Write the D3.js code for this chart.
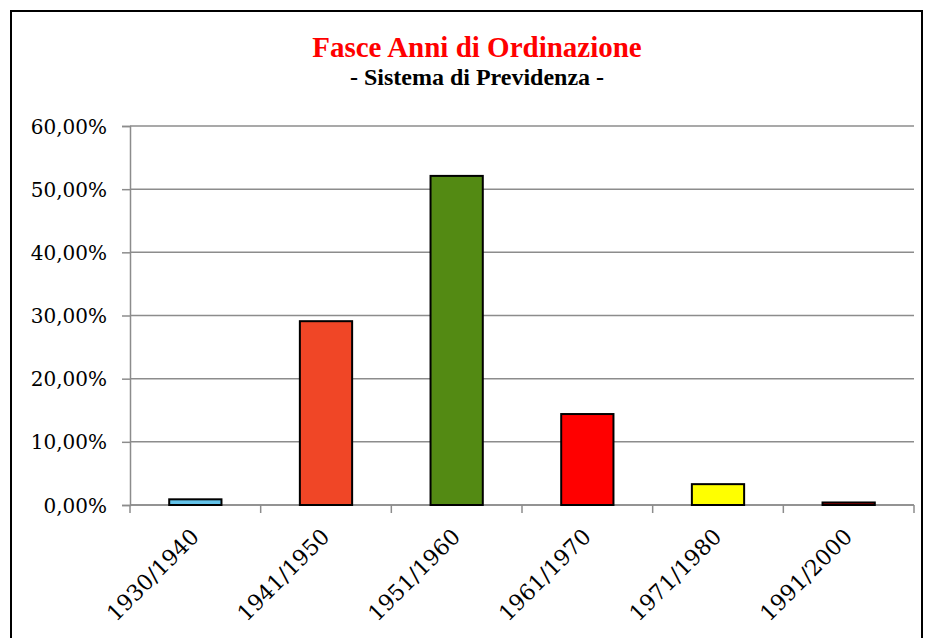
<!DOCTYPE html>
<html>
<head>
<meta charset="utf-8">
<script src="https://cdn.jsdelivr.net/npm/d3@7"></script>
<style>
  body { margin:0; background:#fff; }
  svg text { fill:#000; }
</style>
</head>
<body>
<div class="chart"></div>
<script>
// data
const periods = ["1930/1940", "1941/1950", "1951/1960", "1961/1970", "1971/1980", "1991/2000"];
const shares = [0.9, 29.1, 52.1, 14.4, 3.3, 0.4];
const barColors = ["#63c3ea", "#f04626", "#538a13", "#ff0000", "#ffff00", "#c00000"];
const yTicks = [0, 10, 20, 30, 40, 50, 60];

const W = 930, H = 638;
const margin = { top:126, right:16, bottom:133, left:130 };
const width = W - margin.left - margin.right;
const height = H - margin.top - margin.bottom;

const svg = d3.select(".chart")
    .append("svg")
    .attr("width", W)
    .attr("height", H);

// outer frame
svg.append("rect")
    .attr("x", 11).attr("y", 11)
    .attr("width", 911).attr("height", 640)
    .attr("fill", "none")
    .attr("stroke", "#000")
    .attr("stroke-width", 2);

// titles
svg.append("text")
    .attr("x", 477).attr("y", 57)
    .attr("text-anchor", "middle")
    .style("font-family", "Liberation Serif")
    .style("font-weight", "bold")
    .style("font-size", "29px")
    .style("fill", "#ff0000")
    .text("Fasce Anni di Ordinazione");

svg.append("text")
    .attr("x", 477).attr("y", 85)
    .attr("text-anchor", "middle")
    .style("font-family", "Liberation Serif")
    .style("font-weight", "bold")
    .style("font-size", "24px")
    .text("- Sistema di Previdenza -");

const g = svg.append("g")
    .attr("transform", `translate(${margin.left}, ${margin.top})`);

let yScale = d3.scaleLinear()
    .domain([0, 60])
    .range([height, 0]);

let xScale = d3.scaleBand()
    .domain(periods)
    .range([0, width])
    .paddingInner(0.6)
    .paddingOuter(0.3);

// gridlines
g.selectAll(".grid")
    .data(yTicks)
    .enter().append("line")
    .attr("class", "grid")
    .attr("x1", 0).attr("x2", width)
    .attr("y1", d => yScale(d)).attr("y2", d => yScale(d))
    .attr("stroke", "#8c8c8c")
    .attr("stroke-width", 1.5);

// y axis
g.append("g")
    .call(d3.axisLeft(yScale).tickValues(yTicks).tickSize(8).tickPadding(15)
        .tickFormat(d => d3.format(".2f")(d).replace(".", ",") + "%"))
    .call(a => a.selectAll("line, path").attr("stroke", "#8c8c8c").attr("stroke-width", 1.5))
    .call(a => a.selectAll("text")
        .style("font-family", "DejaVu Serif")
        .style("font-size", "20px")
        .attr("dy", "0.35em"));

// x axis: ticks at category boundaries
const step = width / periods.length;
const bounds = d3.range(periods.length + 1).map(i => i * step);

g.append("line")
    .attr("x1", 0).attr("x2", width)
    .attr("y1", height).attr("y2", height)
    .attr("stroke", "#8c8c8c")
    .attr("stroke-width", 1.5);

g.selectAll(".xtick")
    .data(bounds)
    .enter().append("line")
    .attr("class", "xtick")
    .attr("x1", d => d).attr("x2", d => d)
    .attr("y1", height).attr("y2", height + 8)
    .attr("stroke", "#8c8c8c")
    .attr("stroke-width", 1.5);

// bars
g.selectAll(".bar")
    .data(periods)
    .enter().append("rect")
    .attr("class", "bar")
    .attr("x", d => xScale(d))
    .attr("y", (d, i) => yScale(shares[i]))
    .attr("width", xScale.bandwidth())
    .attr("height", (d, i) => height - yScale(shares[i]))
    .attr("fill", (d, i) => barColors[i])
    .attr("stroke", "#000")
    .attr("stroke-width", 2);

// x labels
g.selectAll(".xlabel")
    .data(periods)
    .enter().append("text")
    .attr("class", "xlabel")
    .attr("text-anchor", "end")
    .attr("transform", d => `translate(${xScale(d) + xScale.bandwidth() / 2 + 5}, ${height + 33}) rotate(-45)`)
    .style("font-family", "DejaVu Serif")
    .style("font-size", "22px")
    .text(d => d);
</script>
</body>
</html>
